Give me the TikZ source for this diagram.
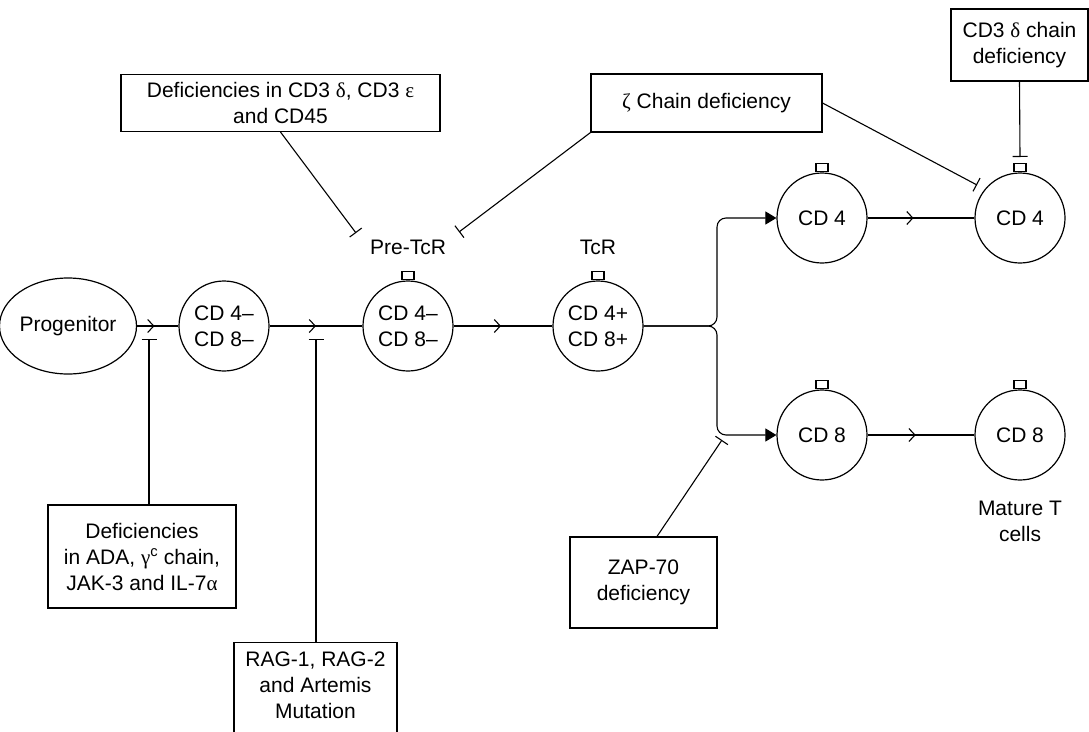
\documentclass[tikz,border=0pt]{standalone}
\usepackage{fontspec}
\setmainfont{Liberation Sans}
\newfontfamily\grk{Liberation Serif}
\usetikzlibrary{arrows.meta,shapes.geometric,decorations.markings}
\tikzset{
  every node/.style={font=\fontsize{21}{26}\selectfont},
  cell/.style={draw, circle, line width=1.2pt, minimum size=90pt, inner sep=0pt, align=center},
  tab/.style={draw, rectangle, line width=1.1pt, minimum width=12pt, minimum height=8pt, inner sep=0pt, anchor=south},
  box/.style={draw, rectangle, line width=1.1pt, inner sep=0pt, align=center},
  lbl/.style={align=center},
  conn/.style={line width=1.1pt},
  flow/.style={conn, decoration={markings, mark=at position #1 with {\arrow{Straight Barb[length=6pt,width=13pt,line width=1.1pt]}}}, postaction={decorate}},
  inh/.style={conn, -{Bar[width=15pt,line width=1.1pt]}},
  branch/.style={conn, rounded corners=9pt, -{Triangle[length=11pt,width=13pt]}}
}
\begin{document}
\begin{tikzpicture}[x=1pt,y=-1pt]
\useasboundingbox (0,0) rectangle (1089,731);
\clip (0,0) rectangle (1089,731);
% cells
\node[draw, ellipse, line width=1.2pt, minimum width=118pt, minimum height=96pt, inner sep=0pt] (prog) at (68,326) {Progenitor};
\node[cell] (c1) at (224,326) {CD 4–\\CD 8–};
\node[cell] (c2) at (408,326) {CD 4–\\CD 8–};
\node[cell] (c3) at (598,326) {CD 4+\\CD 8+};
\node[cell] (c4a) at (822,218) {CD 4};
\node[cell] (c4b) at (1020,218) {CD 4};
\node[cell] (c8a) at (822,435) {CD 8};
\node[cell] (c8b) at (1020,435) {CD 8};
% receptor tabs
\node[tab] (t2) at (c2.north) {};
\node[tab] (t3) at (c3.north) {};
\node[tab] (t4a) at (c4a.north) {};
\node[tab] (t4b) at (c4b.north) {};
\node[tab] (t8a) at (c8a.north) {};
\node[tab] (t8b) at (c8b.north) {};
% labels
\node[lbl] (pre) at (408,247) {Pre-TcR};
\node[lbl] (tcr) at (598,247) {TcR};
\node[lbl] (mat) at (1020,521) {Mature T\\cells};
% boxes
\node[box, minimum width=319pt, minimum height=57pt] (bCD3) at (280.5,103) {Deficiencies in CD3 {\grk δ}, CD3 {\grk ε}\\and CD45};
\node[box, minimum width=231pt, minimum height=58pt] (bZeta) at (706.5,103) {{\grk ζ} Chain deficiency};
\node[box, minimum width=137pt, minimum height=72pt] (bCD3d) at (1019.5,45) {CD3 {\grk δ} chain\\deficiency};
\node[box, minimum width=188pt, minimum height=103pt] (bADA) at (142,556.5) {Deficiencies\\in ADA, {\grk γ}\textsuperscript{c} chain,\\JAK-3 and IL-7{\grk α}};
\node[box, minimum width=163pt, minimum height=120pt, anchor=north] (rag) at (315.5,642) {};
\node[lbl] (ragtxt) at (315.5,685) {RAG-1, RAG-2\\and Artemis\\Mutation};
\node[box, minimum width=147pt, minimum height=91pt] (bZAP) at (643.5,582.5) {ZAP-70\\deficiency};
% main flow
\draw[flow=0.42] (prog.east) -- (c1.west);
\draw[flow=0.5] (c1.east) -- (c2.west);
\draw[flow=0.48] (c2.east) -- (c3.west);
\draw[flow=0.43] (c4a.east) -- (c4b.west);
\draw[flow=0.45] (c8a.east) -- (c8b.west);
% branches
\coordinate (br) at (717,326);
\draw[branch] (c3.east) -- (br) |- (c4a.west);
\draw[branch] (c3.east) -- (br) |- (c8a.west);
% inhibitions
\coordinate (tADA) at (149,339);
\coordinate (tRAG) at (316,339);
\coordinate (tCD3) at (356,233);
\coordinate (tZ1) at (459,232);
\coordinate (tZ2) at (977,185);
\coordinate (tD) at (1020,157);
\coordinate (tZAP) at (722,440);
\draw[inh] (bADA.north -| tADA) -- (tADA);
\draw[inh] (rag.north -| tRAG) -- (tRAG);
\draw[inh] (bCD3.south) -- (tCD3);
\draw[inh] (bZeta.south west) -- (tZ1);
\draw[inh] (bZeta.east) -- (tZ2);
\draw[inh] (bCD3d.south) -- (tD);
\draw[inh] ([xshift=13.5pt]bZAP.north) -- (tZAP);
\end{tikzpicture}
\end{document}
